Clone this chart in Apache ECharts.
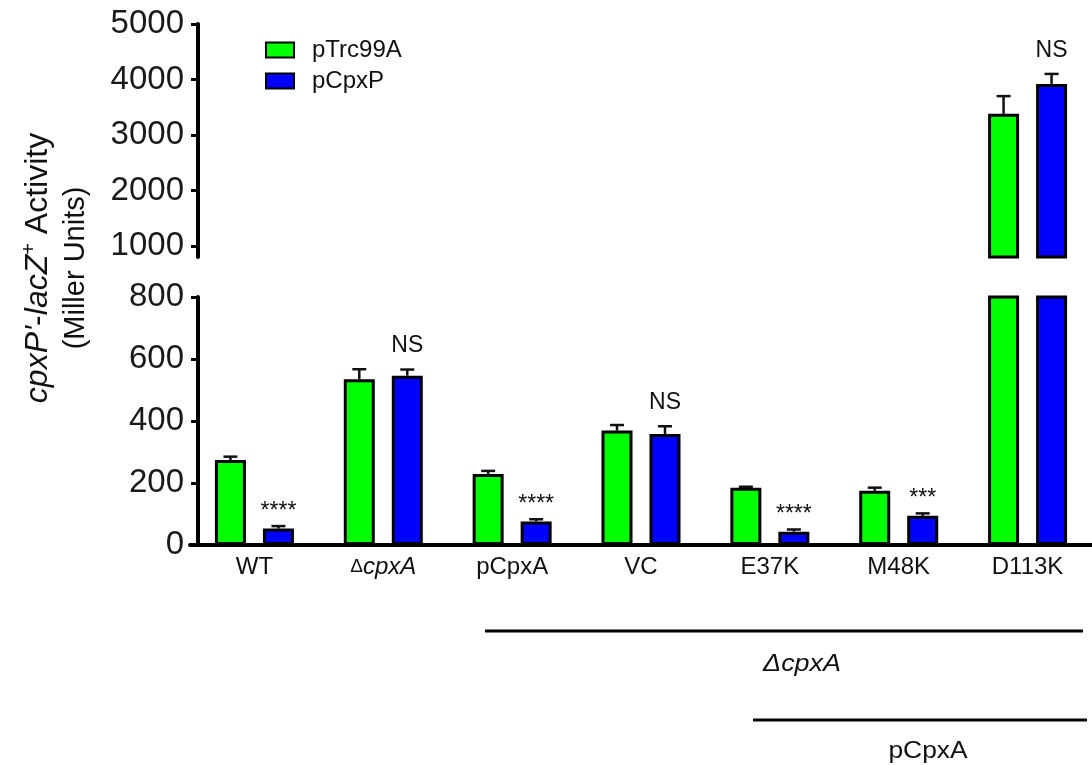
<!DOCTYPE html>
<html>
<head>
<meta charset="utf-8">
<script src="https://cdn.jsdelivr.net/npm/echarts@6/dist/echarts.min.js"></script>
<style>html,body{margin:0;padding:0;background:#fff}#c{width:1092px;height:765px}</style>
</head>
<body>
<div id="c"></div>
<script>
const categories = ['WT', 'ΔcpxA', 'pCpxA', 'VC', 'E37K', 'M48K', 'D113K'];
const pTrc99A = [274, 535, 229, 369, 185, 175, 3380];
const pTrc99AErr = [11, 32, 10, 18, 3, 10, 320];
const pCpxP = [53, 546, 76, 358, 43, 94, 3920];
const pCpxPErr = [8, 20, 7, 25, 7, 8, 180];
const significance = ['****', 'NS', '****', 'NS', '****', '***', 'NS'];
const lowerTicks = [0, 200, 400, 600, 800];
const upperTicks = [1000, 2000, 3000, 4000, 5000];
const breakLow = 800;

const FONT = '"Liberation Sans", Arial, sans-serif';
const GREEN = '#00ff00', BLUE = '#0000ff';
const BAR_W = 31, BAR_GAP = 17;

const chart = echarts.init(document.getElementById('c'), null, {renderer: 'canvas'});

function errData(vals, errs, s, upper) {
  const out = [];
  vals.forEach((v, i) => {
    if (upper ? v > breakLow : v <= breakLow) out.push([i, s, v, errs[i]]);
  });
  return out;
}
function sigData(upper) {
  const out = [];
  pCpxP.forEach((v, i) => {
    if (upper ? v > breakLow : v <= breakLow) out.push([i, v + pCpxPErr[i]]);
  });
  return out;
}
function renderErr(params, api) {
  const cat = api.value(0), s = api.value(1), v = api.value(2), e = api.value(3);
  const off = (s === 0 ? -1 : 1) * (BAR_W + BAR_GAP) / 2;
  const b = api.coord([cat, v]);
  const t = api.coord([cat, v + e]);
  const x = b[0] + off;
  return {
    type: 'group',
    children: [
      {type: 'line', shape: {x1: x, y1: b[1], x2: x, y2: t[1]}, style: {stroke: '#111', lineWidth: 2.5}},
      {type: 'line', shape: {x1: x - 7, y1: t[1], x2: x + 7, y2: t[1]}, style: {stroke: '#111', lineWidth: 2.5}}
    ]
  };
}
function renderSig(params, api) {
  const cat = api.value(0), top = api.value(1);
  const txt = significance[cat];
  const p = api.coord([cat, top]);
  const x = p[0] + (BAR_W + BAR_GAP) / 2;
  const isNS = txt === 'NS';
  return {
    type: 'text',
    x: x, y: p[1] - (isNS ? 12 : 3),
    style: {text: txt, align: 'center', verticalAlign: 'bottom',
      font: '23px ' + FONT, fill: '#111'}
  };
}

const barStyle = c => ({color: c, borderColor: '#000', borderWidth: 3});
const barGapPct = (BAR_GAP / BAR_W * 100) + '%';

const option = {
  animation: false,
  backgroundColor: '#fff',
  legend: {
    orient: 'vertical', left: 260, top: 33,
    itemWidth: 28, itemHeight: 15, itemGap: 7, icon: 'rect',
    textStyle: {fontFamily: FONT, fontSize: 24, color: '#111', padding: [0, 0, 0, 13]},
    data: ['pTrc99A', 'pCpxP']
  },
  grid: [
    {left: 190, width: 910, top: 297, bottom: 220},
    {left: 190, width: 910, top: 24, bottom: 508}
  ],
  xAxis: [
    {
      type: 'category', gridIndex: 0, data: categories,
      axisLine: {lineStyle: {color: '#000', width: 4}},
      axisTick: {alignWithLabel: true, length: 6, lineStyle: {color: '#000', width: 3}},
      axisLabel: {
        interval: 0, margin: 10, fontFamily: FONT, fontSize: 24, color: '#111',
        formatter: v => v.startsWith('Δ') ? '{d|Δ}{i|' + v.slice(1) + '}' : v,
        rich: {
          d: {fontFamily: FONT, fontSize: 19, color: '#111'},
          i: {fontFamily: FONT, fontSize: 24, fontStyle: 'italic', color: '#111'}
        }
      }
    },
    {
      type: 'category', gridIndex: 1, data: categories,
      axisLine: {show: false}, axisTick: {show: false}, axisLabel: {show: false}
    }
  ],
  yAxis: [
    {
      type: 'value', gridIndex: 0, min: lowerTicks[0], max: lowerTicks[lowerTicks.length - 1],
      interval: 200, offset: -8,
      splitLine: {show: false},
      axisLine: {show: true, lineStyle: {color: '#000', width: 4}},
      axisTick: {show: true, length: 7, lineStyle: {color: '#000', width: 3}},
      axisLabel: {fontFamily: FONT, fontSize: 33, color: '#1a1a1a', margin: 14, formatter: v => String(v)}
    },
    {
      type: 'value', gridIndex: 1, min: breakLow, max: upperTicks[upperTicks.length - 1],
      offset: -8,
      splitLine: {show: false},
      axisLine: {show: true, lineStyle: {color: '#000', width: 4}},
      axisTick: {show: true, length: 7, lineStyle: {color: '#000', width: 3}, customValues: upperTicks},
      axisLabel: {fontFamily: FONT, fontSize: 33, color: '#1a1a1a', margin: 14, customValues: upperTicks,
        formatter: v => String(v)}
    }
  ],
  series: [
    {name: 'pTrc99A', type: 'bar', xAxisIndex: 0, yAxisIndex: 0, data: pTrc99A,
      barWidth: BAR_W, barGap: barGapPct, itemStyle: barStyle(GREEN)},
    {name: 'pCpxP', type: 'bar', xAxisIndex: 0, yAxisIndex: 0, data: pCpxP,
      barWidth: BAR_W, barGap: barGapPct, itemStyle: barStyle(BLUE)},
    {name: 'pTrc99A', type: 'bar', xAxisIndex: 1, yAxisIndex: 1,
      data: pTrc99A.map(v => v > breakLow ? v : '-'),
      barWidth: BAR_W, barGap: barGapPct, itemStyle: barStyle(GREEN)},
    {name: 'pCpxP', type: 'bar', xAxisIndex: 1, yAxisIndex: 1,
      data: pCpxP.map(v => v > breakLow ? v : '-'),
      barWidth: BAR_W, barGap: barGapPct, itemStyle: barStyle(BLUE)},
    {type: 'custom', xAxisIndex: 0, yAxisIndex: 0, renderItem: renderErr, z: 1,
      data: errData(pTrc99A, pTrc99AErr, 0, false).concat(errData(pCpxP, pCpxPErr, 1, false))},
    {type: 'custom', xAxisIndex: 1, yAxisIndex: 1, renderItem: renderErr, z: 1,
      data: errData(pTrc99A, pTrc99AErr, 0, true).concat(errData(pCpxP, pCpxPErr, 1, true))},
    {type: 'custom', xAxisIndex: 0, yAxisIndex: 0, renderItem: renderSig, clip: false, data: sigData(false)},
    {type: 'custom', xAxisIndex: 1, yAxisIndex: 1, renderItem: renderSig, clip: false, data: sigData(true)}
  ],
  graphic: [
    {
      type: 'text', x: 57, y: 268, rotation: Math.PI / 2,
      style: {
        text: '{i|cpxP\'}{n|-}{i|lacZ}{s|+}{n| Activity}\n{m|(Miller Units)}',
        align: 'center', verticalAlign: 'middle', lineHeight: 38,
        rich: {
          i: {fontFamily: FONT, fontSize: 32, fontStyle: 'italic', fill: '#111', lineHeight: 38},
          n: {fontFamily: FONT, fontSize: 32, fill: '#111', lineHeight: 38},
          m: {fontFamily: FONT, fontSize: 29, fill: '#111', lineHeight: 38},
          s: {fontFamily: FONT, fontSize: 20, fill: '#111', verticalAlign: 'top', lineHeight: 38, padding: [0, 0, 12, 0]}
        }
      }
    },
    {type: 'line', shape: {x1: 485, y1: 631, x2: 1083, y2: 631}, style: {stroke: '#000', lineWidth: 3}},
    {type: 'line', shape: {x1: 753, y1: 720, x2: 1087, y2: 720}, style: {stroke: '#000', lineWidth: 3}},
    {type: 'text', x: 802, y: 664, scaleX: 1.12,
      style: {text: 'ΔcpxA', align: 'center', verticalAlign: 'middle', font: 'italic 24px ' + FONT, fill: '#111'}},
    {type: 'text', x: 928, y: 751, scaleX: 1.1,
      style: {text: 'pCpxA', align: 'center', verticalAlign: 'middle', font: '24px ' + FONT, fill: '#111'}}
  ]
};
chart.setOption(option);
</script>
</body>
</html>
